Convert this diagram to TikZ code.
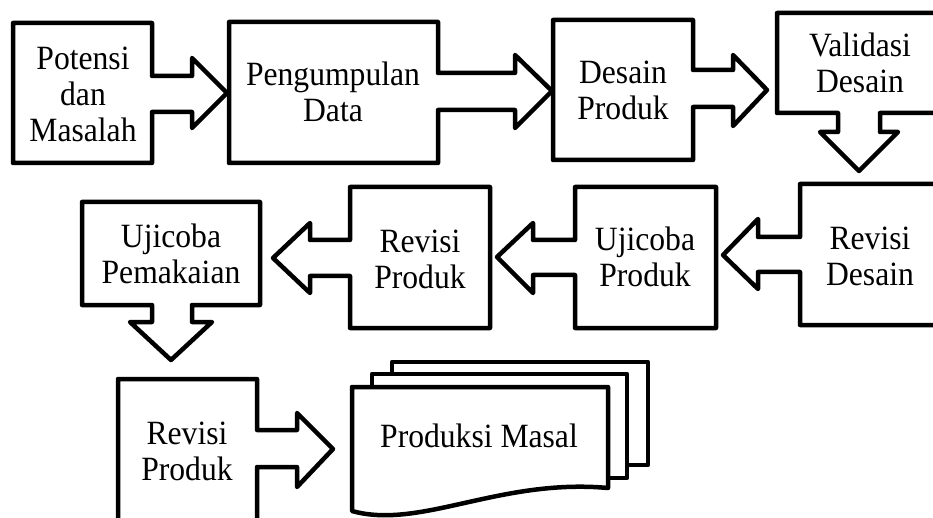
\documentclass[tikz,border=0pt]{standalone}
\usepackage{fontspec}
\setmainfont{Liberation Serif}[FakeStretch=0.93]
\begin{document}
\begin{tikzpicture}[x=1pt,y=-1pt,
  shp/.style={draw=black, line width=4.5pt, line join=round, fill=white},
  lbl/.style={font=\fontsize{34}{36}\selectfont, align=center, inner sep=0pt}]
\useasboundingbox (0,0) rectangle (933,518);
\clip (0,0) rectangle (933,518);
% row 1
\draw[shp] (13,23) -- (152,23) -- (152,76) -- (192,76) -- (192,58) -- (227,93) -- (192,128) -- (192,112) -- (152,112) -- (152,163) -- (13,163) -- cycle;
\draw[shp] (229,22) -- (438,22) -- (438,73) -- (515,73) -- (515,55) -- (552,91) -- (515,128) -- (515,110) -- (438,110) -- (438,163) -- (229,163) -- cycle;
\draw[shp] (553,20) -- (693,20) -- (693,70) -- (733,70) -- (733,55) -- (767,90) -- (733,126) -- (733,107) -- (693,107) -- (693,160) -- (553,160) -- cycle;
\draw[shp] (777,13) -- (943,13) -- (943,113) -- (880,113) -- (880,132) -- (898,132) -- (859,171) -- (820,132) -- (838,132) -- (838,113) -- (777,113) -- cycle;
% row 2
\draw[shp] (800,184) -- (943,184) -- (943,325) -- (800,325) -- (800,272) -- (758,272) -- (758,289) -- (723,255) -- (758,219) -- (758,237) -- (800,237) -- cycle;
\draw[shp] (575,187) -- (716,187) -- (716,328) -- (575,328) -- (575,275) -- (533,275) -- (533,293) -- (497,257) -- (533,223) -- (533,240) -- (575,240) -- cycle;
\draw[shp] (350,187) -- (490,187) -- (490,328) -- (350,328) -- (350,276) -- (310,276) -- (310,293) -- (273,258) -- (310,223) -- (310,240) -- (350,240) -- cycle;
\draw[shp] (82,202) -- (260,202) -- (260,305) -- (192,305) -- (192,322) -- (212,322) -- (171,360) -- (130,322) -- (152,322) -- (152,305) -- (82,305) -- cycle;
% row 3
\draw[shp] (118,379) -- (257,379) -- (257,430) -- (297,430) -- (297,413) -- (333,449) -- (297,487) -- (297,467) -- (257,467) -- (257,524) -- (118,524) -- cycle;
\draw[shp] (392,362) rectangle (648,465);
\draw[shp] (372,374) rectangle (627,478);
\draw[shp] (352,387) -- (608,387) -- (608,488) .. controls (500,478) and (420,530) .. (352,511) -- cycle;
% labels
\node[lbl] (potensi) at (83,94.5) {Potensi\\dan\\Masalah};
\node[lbl] (pengumpulan) at (333,92) {Pengumpulan\\Data};
\node[lbl] (desain) at (623,90) {Desain\\Produk};
\node[lbl] (validasi) at (860,62.5) {Validasi\\Desain};
\node[lbl] (revdesain) at (870,256) {Revisi\\Desain};
\node[lbl] (ujiproduk) at (645,257) {Ujicoba\\Produk};
\node[lbl] (revproduk) at (420,259) {Revisi\\Produk};
\node[lbl] (ujipakai) at (171,254) {Ujicoba\\Pemakaian};
\node[lbl] (revproduk2) at (187,451.5) {Revisi\\Produk};
\node[lbl] (masal) at (479,436) {Produksi Masal};
\end{tikzpicture}
\end{document}
